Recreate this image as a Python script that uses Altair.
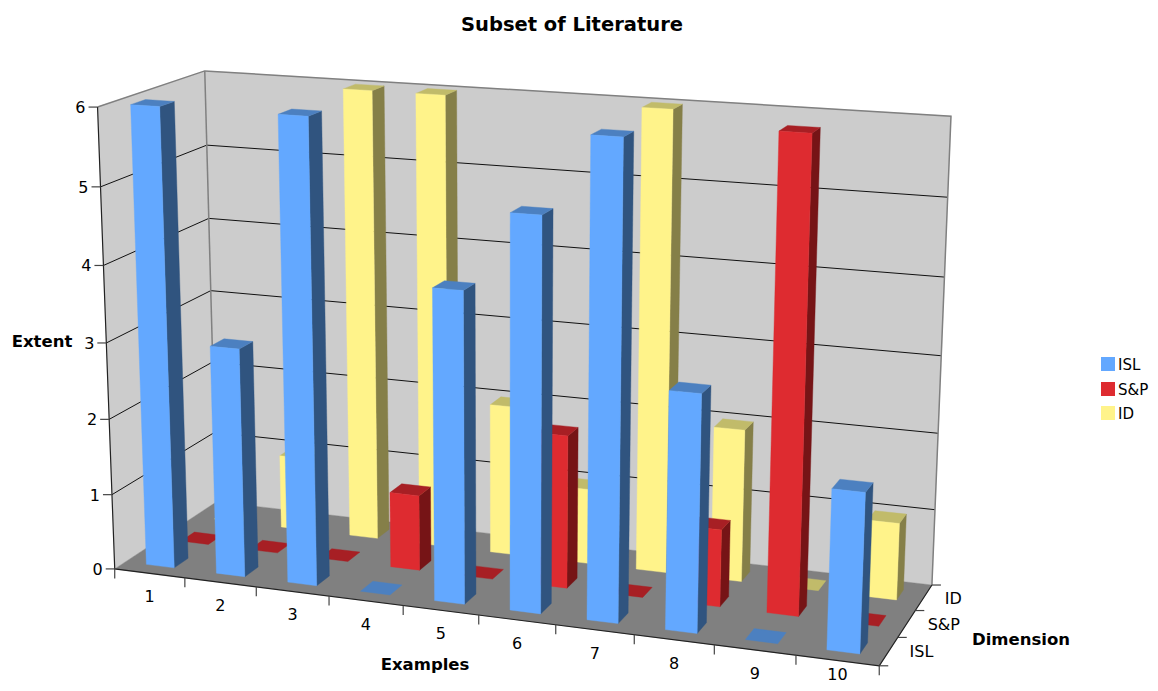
import numpy as np
import pandas as pd
import altair as alt

examples = [1, 2, 3, 4, 5, 6, 7, 8, 9, 10]
dimensions = ["ISL", "S&P", "ID"]
isl_values = [6, 3, 6, 0, 4, 5, 6, 3, 0, 2]
sp_values = [0, 0, 0, 1, 0, 2, 0, 1, 6, 0]
id_values = [0, 1, 6, 6, 2, 1, 6, 2, 0, 1]
value_ticks = [0, 1, 2, 3, 4, 5, 6]

# face colours per series: front, side, top
palette = {
    "ISL": ("#63a8ff", "#30547f", "#4c80c0"),
    "S&P": ("#de2b30", "#761416", "#a71f24"),
    "ID": ("#fff38a", "#857f48", "#c1bb6a"),
}
FONT = "DejaVu Sans"

# Perspective camera calibrated from the chart's frame: (example, dimension, value) -> picture
anchors = [
    (0, 0, 0, 115.7, 568.7), (0, 0, 6, 96.7, 107.3), (0, 3, 6, 205.3, 71.0),
    (0, 3, 0, 215.0, 502.7), (10, 3, 6, 951.3, 116.0), (10, 3, 0, 932.3, 584.0),
    (10, 0, 0, 879.0, 666.7), (1, 0, 0, 185.0, 577.3), (2, 0, 0, 256.7, 586.7),
    (3, 0, 0, 329.0, 596.7), (10, 3, 5, 947.3, 197.3), (10, 3, 4, 944.3, 277.3),
    (10, 3, 3, 941.0, 356.0), (10, 3, 2, 938.3, 433.0), (0, 3, 5, 207.7, 145.0),
    (0, 0, 5, 100.0, 186.7), (0, 0, 1, 112.0, 494.0),
]
rows = []
rhs = []
for u, v, h, px, py in anchors:
    rows.append([u, v, h, 1, 0, 0, 0, 0, -px * u, -px * v, -px * h])
    rows.append([0, 0, 0, 0, u, v, h, 1, -py * u, -py * v, -py * h])
    rhs += [px, py]
sol = np.linalg.lstsq(np.array(rows, float), np.array(rhs, float), rcond=None)[0]
CAM = np.append(sol, 1.0).reshape(3, 4)


def project(u, v, h):
    p = CAM @ np.array([u, v, h, 1.0])
    return float(p[0] / p[2]), float(p[1] / p[2])


SX = alt.Scale(domain=[8, 1150], range=[0, 1142])
SY = alt.Scale(domain=[8, 683], range=[0, 675])
X = alt.X("px:Q", scale=SX, axis=None)
Y = alt.Y("py:Q", scale=SY, axis=None)

BAR_A, BAR_B = 0.30, 0.70
series = {"ISL": isl_values, "S&P": sp_values, "ID": id_values}


def poly_chart(records):
    df = pd.DataFrame(records)
    df["seq"] = range(len(df))
    return alt.Chart(df).mark_line(strokeWidth=0.4, interpolate="linear").encode(
        x=X, y=Y, detail="pid:N", order=alt.Order("seq:Q"),
        stroke=alt.Stroke("c:N", scale=None), fill=alt.Fill("c:N", scale=None),
    )


def add_face(store, corners, color):
    pid = store[-1]["pid"] + 1 if store else 0
    for c in list(corners) + [corners[0]]:
        px, py = project(*c)
        store.append({"pid": pid, "px": px, "py": py, "c": color})


wall_records = []
add_face(wall_records, [(0, 0, 0), (0, 3, 0), (0, 3, 6), (0, 0, 6)], "#cccccc")
add_face(wall_records, [(0, 3, 0), (10, 3, 0), (10, 3, 6), (0, 3, 6)], "#cccccc")
add_face(wall_records, [(0, 0, 0), (10, 0, 0), (10, 3, 0), (0, 3, 0)], "#808080")

bar_records = []
for d in [2, 1, 0]:
    name = dimensions[d]
    front, side, top = palette[name]
    vals = series[name]
    for i in range(9, -1, -1):
        h = vals[i]
        u0, u1 = i + BAR_A, i + BAR_B
        v0, v1 = d + BAR_A, d + BAR_B
        if h > 0:
            add_face(bar_records, [(u1, v0, 0), (u1, v1, 0), (u1, v1, h), (u1, v0, h)], side)
            add_face(bar_records, [(u0, v0, h), (u1, v0, h), (u1, v1, h), (u0, v1, h)], top)
            add_face(bar_records, [(u0, v0, 0), (u1, v0, 0), (u1, v0, h), (u0, v0, h)], front)
        else:
            add_face(bar_records, [(u0, v0, 0), (u1, v0, 0), (u1, v1, 0), (u0, v1, 0)], top)


def line_chart(paths, color, width):
    recs = []
    for pid, path in enumerate(paths):
        for c, off in path:
            px, py = project(*c)
            recs.append({"pid": pid, "px": px + off[0], "py": py + off[1]})
    df = pd.DataFrame(recs)
    df["seq"] = range(len(df))
    return alt.Chart(df).mark_line(color=color, strokeWidth=width).encode(
        x=X, y=Y, detail="pid:N", order=alt.Order("seq:Q")
    )


Z = (0, 0)
grid = line_chart(
    [[((0, 0, h), Z), ((0, 3, h), Z), ((10, 3, h), Z)] for h in value_ticks[1:-1]],
    "#111111", 1,
)
frame = line_chart(
    [
        [((0, 0, 6), Z), ((0, 3, 6), Z), ((10, 3, 6), Z), ((10, 3, 0), Z)],
        [((0, 3, 0), Z), ((0, 3, 6), Z)],
    ],
    "#808080", 1.5,
)
axes = line_chart(
    [
        [((0, 0, 6), Z), ((0, 0, 0), Z), ((10, 0, 0), Z), ((10, 3, 0), Z)],
    ],
    "#222222", 1.2,
)
ticks = line_chart(
    [[((0, 0, h), (-9, 0)), ((0, 0, h), Z)] for h in value_ticks]
    + [[((u, 0, 0), Z), ((u, 0, 0), (0, 9.5))] for u in range(0, 11)]
    + [[((10, v, 0), Z), ((10, v, 0), (9, 0))] for v in range(0, 4)],
    "#444444", 1.2,
)


def text_layer(recs, align="center", size=16, weight="normal"):
    return alt.Chart(pd.DataFrame(recs)).mark_text(
        align=align, baseline="middle", font=FONT, fontSize=size, fontWeight=weight, color="#000000"
    ).encode(x=X, y=Y, text="t:N")


val_labels = []
for h in value_ticks:
    px, py = project(0, 0, h)
    val_labels.append({"px": px - 12, "py": py + 1, "t": str(h)})
ex_labels = []
for i, e in enumerate(examples):
    px, py = project(i + 0.5, 0, 0)
    ex_labels.append({"px": px, "py": min(py + 24, 675), "t": str(e)})
dim_labels = []
for d, name in enumerate(dimensions):
    px, py = project(10, d + 0.5, 0)
    dim_labels.append({"px": px + 21, "py": py + 1, "t": name})

legend_df = pd.DataFrame(
    {
        "px": [1108, 1108, 1108],
        "py": [364, 389, 413],
        "lx": [1118, 1118, 1118],
        "ty": [365, 390, 414],
        "t": dimensions,
        "c": [palette[n][0] for n in dimensions],
    }
)
legend_marks = alt.Chart(legend_df).mark_square(size=196, opacity=1, filled=True).encode(
    x=X, y=Y, color=alt.Color("c:N", scale=None)
)
legend_text = alt.Chart(legend_df).mark_text(
    align="left", baseline="middle", font=FONT, fontSize=15, color="#000000"
).encode(x=alt.X("lx:Q", scale=SX, axis=None), y=alt.Y("ty:Q", scale=SY, axis=None), text="t:N")

chart = alt.layer(
    poly_chart(wall_records),
    grid,
    frame,
    poly_chart(bar_records),
    axes,
    ticks,
    text_layer(val_labels, align="right"),
    text_layer(ex_labels),
    text_layer(dim_labels, align="left"),
    text_layer([{"px": 572, "py": 25, "t": "Subset of Literature"}], size=19.5, weight="bold"),
    text_layer([{"px": 42, "py": 342, "t": "Extent"}], size=16.5, weight="bold"),
    text_layer([{"px": 425, "py": 665, "t": "Examples"}], size=16.5, weight="bold"),
    text_layer([{"px": 1021, "py": 640, "t": "Dimension"}], size=16.5, weight="bold"),
    legend_marks,
    legend_text,
).properties(
    width=1142, height=675, padding=0, autosize=alt.AutoSizeParams(type="none"),
    background="#ffffff",
).configure_view(stroke=None)

chart.save("out.html", embed_options={"renderer": "svg", "actions": False})
